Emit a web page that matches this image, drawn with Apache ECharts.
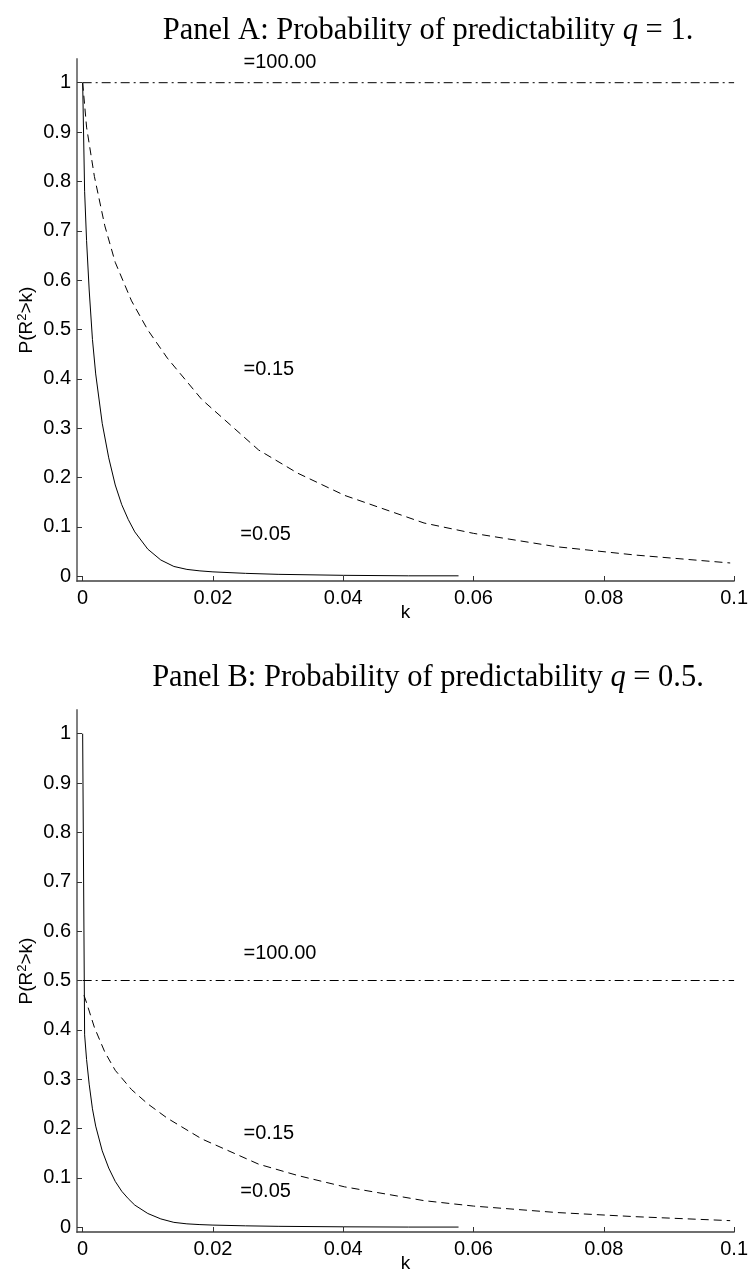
<!DOCTYPE html>
<html>
<head>
<meta charset="utf-8">
<script src="https://cdn.jsdelivr.net/npm/echarts@6/dist/echarts.min.js"></script>
<style>
  html, body { margin: 0; padding: 0; background: #fff; }
  #chart { width: 751px; height: 1280px; }
</style>
</head>
<body>
<div id="chart"></div>
<script>
// ticks
var xTicks = [0, 0.02, 0.04, 0.06, 0.08, 0.1];
var yTicks = [0, 0.1, 0.2, 0.3, 0.4, 0.5, 0.6, 0.7, 0.8, 0.9, 1];

// panel A, q = 1
var kSolidA = [0, 0.0003, 0.0006, 0.001, 0.0015, 0.002, 0.003, 0.004, 0.005, 0.006, 0.007, 0.008, 0.01, 0.012, 0.014, 0.016, 0.018, 0.02, 0.025, 0.03, 0.04, 0.05, 0.0577];
var pSolidA = [1, 0.78, 0.68, 0.58, 0.48, 0.41, 0.31, 0.24, 0.185, 0.145, 0.115, 0.09, 0.055, 0.033, 0.02, 0.014, 0.011, 0.009, 0.006, 0.004, 0.002, 0.001, 0.001];
var kDashA = [0, 0.0006, 0.0018, 0.0034, 0.005, 0.0075, 0.01, 0.013, 0.0183, 0.027, 0.033, 0.0402, 0.0524, 0.06, 0.0727, 0.0849, 0.0994];
var pDashA = [1, 0.91, 0.81, 0.71, 0.636, 0.558, 0.499, 0.442, 0.358, 0.256, 0.209, 0.164, 0.108, 0.087, 0.06, 0.043, 0.027];
var kFlatA = [0, 0.1];
var pFlatA = [1, 1];

// panel B, q = 0.5
var kSolidB = [0, 0.0003, 0.0006, 0.001, 0.0015, 0.002, 0.003, 0.004, 0.005, 0.006, 0.007, 0.008, 0.01, 0.012, 0.014, 0.016, 0.018, 0.02, 0.025, 0.03, 0.04, 0.05, 0.0577];
var pSolidB = [1, 0.39, 0.34, 0.29, 0.24, 0.205, 0.155, 0.12, 0.093, 0.073, 0.058, 0.045, 0.028, 0.017, 0.01, 0.007, 0.0055, 0.0045, 0.003, 0.002, 0.001, 0.0005, 0.0005];
var kDashB = [0.0002, 0.0006, 0.0018, 0.0034, 0.005, 0.0075, 0.01, 0.013, 0.0183, 0.027, 0.033, 0.0402, 0.0524, 0.06, 0.0727, 0.0849, 0.0994];
var pDashB = [0.47, 0.455, 0.405, 0.355, 0.318, 0.279, 0.25, 0.221, 0.179, 0.128, 0.105, 0.082, 0.054, 0.043, 0.03, 0.0215, 0.0135];
var kFlatB = [0, 0.1];
var pFlatB = [0.5, 0.5];

// curve labels
var labelText = ['=100.00', '=0.15', '=0.05'];
var labelK = [0.0247, 0.0247, 0.0242];
var labelPA = [1.04, 0.418, 0.084];
var labelPB = [0.554, 0.19, 0.073];

function pairs(k, p) {
  var out = [];
  for (var i = 0; i < k.length; i++) out.push([k[i], p[i]]);
  return out;
}

var sans = 'Liberation Sans, Arial, sans-serif';
var serif = 'Liberation Serif, Times New Roman, serif';

function xAxisFor(idx) {
  return {
    type: 'value', gridIndex: idx, min: -0.00087, max: 0.1,
    name: 'k', nameLocation: 'middle', nameGap: 22, nameMoveOverlap: false,
    nameTextStyle: { fontFamily: sans, fontSize: 19, color: '#000' },
    axisLine: { onZero: false, lineStyle: { color: '#404040', width: 1.5 } },
    axisTick: { inside: true, length: 5, customValues: xTicks, lineStyle: { color: '#333', width: 1 } },
    axisLabel: { customValues: xTicks, margin: 7, fontFamily: sans, fontSize: 20, color: '#000',
      formatter: function (v) { return String(v); } },
    splitLine: { show: false }
  };
}

function yAxisFor(idx) {
  return {
    type: 'value', gridIndex: idx, min: -0.0095, max: 1.048,
    name: 'P(R{s|2}>k)', nameLocation: 'middle', nameGap: 40, nameMoveOverlap: false,
    nameTextStyle: {
      fontFamily: sans, fontSize: 19, color: '#000',
      rich: { s: { fontFamily: sans, fontSize: 13, color: '#000', verticalAlign: 'top', padding: [0, 0, 8, 0] } }
    },
    axisLine: { onZero: false, lineStyle: { color: '#808080', width: 2 } },
    axisTick: { inside: true, length: 5, customValues: yTicks, lineStyle: { color: '#333', width: 1 } },
    axisLabel: { customValues: yTicks, margin: 6, fontFamily: sans, fontSize: 20, color: '#000',
      formatter: function (v) { return String(v); } },
    splitLine: { show: false }
  };
}

function lineSeries(idx, k, p, type) {
  return {
    type: 'line', xAxisIndex: idx, yAxisIndex: idx,
    data: pairs(k, p), showSymbol: false, symbol: 'none', smooth: false,
    lineStyle: { color: '#000', width: 1, type: type }
  };
}

function labelSeries(idx, pv) {
  var d = [];
  for (var i = 0; i < labelText.length; i++) d.push([labelK[i], pv[i], labelText[i]]);
  return {
    type: 'scatter', xAxisIndex: idx, yAxisIndex: idx, symbolSize: 0, data: d,
    itemStyle: { opacity: 1 },
    label: { show: true, position: 'right', distance: 0, fontFamily: sans, fontSize: 20, color: '#000',
      formatter: function (p) { return p.data[2]; } }
  };
}

function titleFor(top, txt) {
  return {
    text: '{n|Panel ' + txt[0] + ': Probability of predictability }{i|q}{n| = ' + txt[1] + '.}',
    left: 428, top: top, textAlign: 'center', padding: 0,
    textStyle: {
      fontWeight: 'normal',
      rich: {
        n: { fontFamily: serif, fontSize: 30.5, fontWeight: 'normal', color: '#000' },
        i: { fontFamily: serif, fontSize: 30.5, fontWeight: 'normal', fontStyle: 'italic', color: '#000' }
      }
    }
  };
}

var chart = echarts.init(document.getElementById('chart'));
chart.setOption({
  animation: false,
  backgroundColor: '#fff',
  title: [titleFor(15, ['A', '1']), titleFor(662, ['B', '0.5'])],
  grid: [
    { left: 77, width: 662.5, top: 59, height: 522 },
    { left: 77, width: 662.5, top: 710, height: 522 }
  ],
  xAxis: [xAxisFor(0), xAxisFor(1)],
  yAxis: [yAxisFor(0), yAxisFor(1)],
  series: [
    lineSeries(0, kFlatA, pFlatA, [9, 4, 2, 4]),
    lineSeries(0, kDashA, pDashA, [8, 5]),
    lineSeries(0, kSolidA, pSolidA, 'solid'),
    labelSeries(0, labelPA),
    lineSeries(1, kFlatB, pFlatB, [9, 4, 2, 4]),
    lineSeries(1, kDashB, pDashB, [8, 5]),
    lineSeries(1, kSolidB, pSolidB, 'solid'),
    labelSeries(1, labelPB)
  ]
});
</script>
</body>
</html>
